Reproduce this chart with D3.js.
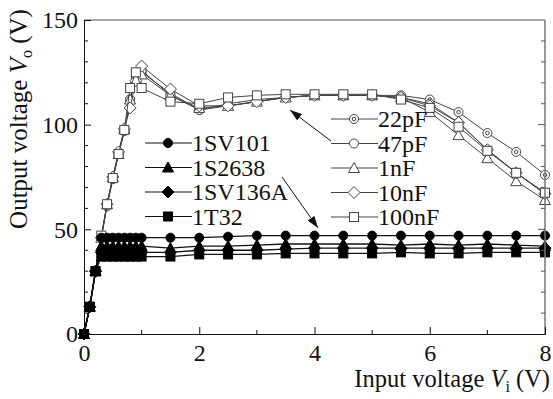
<!DOCTYPE html>
<html>
<head>
<meta charset="utf-8">
<script src="https://cdn.jsdelivr.net/npm/d3@7"></script>
<style>
  body { margin: 0; background: #fff; }
  text { font-family: "Liberation Serif", "Times New Roman", serif; fill: #111; }
</style>
</head>
<body>
<div id="chart"></div>
<script>
// Data
const inputV = [0, 0.1, 0.2, 0.3, 0.4, 0.5, 0.6, 0.7, 0.8, 0.9, 1.0, 1.5, 2, 2.5, 3, 3.5, 4, 4.5, 5, 5.5, 6, 6.5, 7, 7.5, 8];

const diodeNames = ["1SV101", "1S2638", "1SV136A", "1T32"];
const v1SV101  = [0, 13, 30, 46, 46, 46, 46, 46, 46, 46, 46, 46, 46, 46.5, 47, 47, 47, 47, 47, 47, 47, 47, 47, 47, 47];
const v1S2638  = [0, 13, 30, 42, 42, 42, 42, 42, 42, 42, 42, 41, 42, 42, 42.5, 43, 43, 43, 43, 42.5, 43, 42.5, 43, 42.5, 42];
const v1SV136A = [0, 13, 30, 39, 39, 39, 39, 39, 39, 39, 39, 39, 40, 40, 40, 40.5, 41, 41, 41, 41, 41, 41, 41, 41, 41];
const v1T32    = [0, 13, 30, 37, 37, 37, 37, 37, 37, 37, 37, 37, 38, 38, 38, 38.5, 38.5, 38.5, 38.5, 39, 38.5, 38.5, 39, 39, 39];

const capNames = ["22pF", "47pF", "1nF", "10nF", "100nF"];
const v22pF  = [0, 13, 30, 46, 62, 74, 86, 97, 112, 122, 125, 115, 107, 110, 112, 113, 114, 114, 114, 114, 112, 106, 96, 87, 76];
const v47pF  = [0, 13, 30, 46, 61, 74, 86, 97, 112, 123, 126, 114, 107, 109, 111, 113, 114, 114, 114, 113, 110, 101, 88, 77, 67];
const v1nF   = [0, 13, 30, 46, 62, 75, 86, 98, 112, 122, 124, 114, 108, 109, 111, 113, 114, 114, 114, 113, 106, 95, 84, 73, 64];
const v10nF  = [0, 13, 30, 46, 62, 75, 87, 98, 108, 121, 128, 117, 109, 109, 111, 113, 114, 114, 114, 113, 109, 101, 88, 77, 67];
const v100nF = [0, 13, 30, 47, 62, 74.5, 86, 97.5, 117.5, 125, 117.5, 111, 110, 113, 114, 114.5, 114.5, 114.5, 114.5, 112, 108, 99, 87.5, 77, 67.5];

const xTicks = [0, 2, 4, 6, 8];
const yTicks = [0, 50, 100, 150];

// Layout
const W = 553, H = 399;
const margin = {top: 20, right: 8, bottom: 65, left: 84};
const width = W - margin.left - margin.right;
const height = H - margin.top - margin.bottom;

const svg = d3.select("#chart").append("svg")
  .attr("width", W).attr("height", H);
const g = svg.append("g").attr("transform", `translate(${margin.left},${margin.top})`);

const x = d3.scaleLinear().domain([0, 8]).range([0, width]);
const y = d3.scaleLinear().domain([0, 150]).range([height, 0]);

// marker shapes
function shape(sel, kind, fill, stroke) {
  let el;
  if (kind === "circle" || kind === "dcircle") {
    el = sel.append("circle").attr("r", 4.5);
  } else if (kind === "square") {
    el = sel.append("rect").attr("x", -4.5).attr("y", -4.5).attr("width", 9).attr("height", 9);
  } else if (kind === "triangle") {
    el = sel.append("path").attr("d", "M0,-5.5L5.5,4.5L-5.5,4.5Z");
  } else if (kind === "diamond") {
    el = sel.append("path").attr("d", "M0,-6L6,0L0,6L-6,0Z");
  }
  el.attr("fill", fill).attr("stroke", stroke).attr("stroke-width", 1);
  if (kind === "dcircle") {
    sel.append("circle").attr("r", 1.8).attr("fill", "none").attr("stroke", stroke).attr("stroke-width", 1);
  }
}

const capSeries = [
  {name: capNames[0], vals: v22pF, kind: "dcircle"},
  {name: capNames[1], vals: v47pF, kind: "circle"},
  {name: capNames[2], vals: v1nF, kind: "triangle"},
  {name: capNames[3], vals: v10nF, kind: "diamond"},
  {name: capNames[4], vals: v100nF, kind: "square"}
];
const diodeSeries = [
  {name: diodeNames[0], vals: v1SV101, kind: "circle"},
  {name: diodeNames[1], vals: v1S2638, kind: "triangle"},
  {name: diodeNames[2], vals: v1SV136A, kind: "diamond"},
  {name: diodeNames[3], vals: v1T32, kind: "square"}
];

const line = d3.line().x(d => x(d[0])).y(d => y(d[1]));

// capacitor curves (open markers)
capSeries.forEach(s => {
  const pts = inputV.map((v, i) => [v, s.vals[i]]);
  g.append("path").datum(pts)
    .attr("fill", "none").attr("stroke", "#444").attr("stroke-width", 1)
    .attr("d", line);
  pts.forEach(p => {
    const m = g.append("g").attr("transform", `translate(${x(p[0])},${y(p[1])})`);
    shape(m, s.kind, "#fff", "#444");
  });
});

// diode curves (filled markers)
diodeSeries.forEach(s => {
  const pts = inputV.map((v, i) => [v, s.vals[i]]);
  g.append("path").datum(pts)
    .attr("fill", "none").attr("stroke", "#111").attr("stroke-width", 1.3)
    .attr("d", line);
  pts.forEach(p => {
    const m = g.append("g").attr("transform", `translate(${x(p[0])},${y(p[1])})`);
    shape(m, s.kind, "#000", "#000");
  });
});

// frame
g.append("line").attr("x1", 0).attr("x2", width).attr("y1", 0).attr("y2", 0).attr("stroke", "#555");
g.append("line").attr("x1", width).attr("x2", width).attr("y1", 0).attr("y2", height).attr("stroke", "#777").attr("stroke-width", 1.5);

// axes
const xAxis = g.append("g").attr("transform", `translate(0,${height})`)
  .call(d3.axisBottom(x).tickValues(xTicks).tickSize(-7).tickPadding(10).tickFormat(d3.format("d")));
const yAxis = g.append("g")
  .call(d3.axisLeft(y).tickValues(yTicks).tickSize(-7).tickPadding(6).tickFormat(d3.format("d")));
[xAxis, yAxis].forEach(a => {
  a.select(".domain").attr("stroke", "#111");
  a.selectAll(".tick line").attr("stroke", "#111");
  a.selectAll("text").style("font-family", "Liberation Serif").style("font-size", "24px").attr("fill", "#111");
});
// minor ticks
g.append("g").selectAll("line").data(d3.range(1, 8, 2)).join("line")
  .attr("x1", d => x(d)).attr("x2", d => x(d)).attr("y1", height).attr("y2", height - 4)
  .attr("stroke", "#111");
g.append("g").selectAll("line").data(d3.range(10, 150, 10).filter(d => d % 50)).join("line")
  .attr("x1", 0).attr("x2", 4).attr("y1", d => y(d)).attr("y2", d => y(d))
  .attr("stroke", "#111");
g.append("g").selectAll("line").data(d3.range(10, 150, 10)).join("line")
  .attr("x1", width).attr("x2", d => width - (d % 50 ? 4 : 7))
  .attr("y1", d => y(d)).attr("y2", d => y(d))
  .attr("stroke", "#555");

// axis titles
const xt = svg.append("text").attr("text-anchor", "end").attr("x", 550).attr("y", 387).style("font-size", "24.5px");
xt.append("tspan").text("Input voltage ");
xt.append("tspan").style("font-style", "italic").text("V");
xt.append("tspan").attr("dy", 5).style("font-size", "16px").text("i");
xt.append("tspan").attr("dy", -5).text(" (V)");

const yt = svg.append("text").attr("text-anchor", "middle")
  .attr("transform", "translate(27,119) rotate(-90)").style("font-size", "25px");
yt.append("tspan").text("Output voltage ");
yt.append("tspan").style("font-style", "italic").text("V");
yt.append("tspan").attr("dy", 5).style("font-size", "16px").text("o");
yt.append("tspan").attr("dy", -5).text(" (V)");

// legends
function legend(items, x0, y0, stroke, fill, lineColor) {
  items.forEach((s, i) => {
    const row = svg.append("g").attr("transform", `translate(${x0},${y0 + i * 24.5})`);
    row.append("line").attr("x1", 0).attr("x2", 47).attr("stroke", lineColor).attr("stroke-width", 1.2);
    shape(row.append("g").attr("transform", "translate(23,0)"), s.kind, fill, stroke);
    row.append("text").attr("x", 47).attr("y", 8).style("font-size", "24px").text(s.name);
  });
}
legend(diodeSeries, 145, 143, "#000", "#000", "#111");
legend(capSeries, 331, 119, "#444", "#fff", "#444");

// arrows
const defs = svg.append("defs");
defs.append("marker").attr("id", "ah").attr("viewBox", "0 0 12 8")
  .attr("refX", 12).attr("refY", 4).attr("markerWidth", 12).attr("markerHeight", 8)
  .attr("markerUnits", "userSpaceOnUse").attr("orient", "auto")
  .append("path").attr("d", "M0,0L12,4L0,8Z").attr("fill", "#111");
svg.append("line").attr("x1", 331).attr("y1", 141).attr("x2", 290).attr("y2", 110)
  .attr("stroke", "#111").attr("marker-end", "url(#ah)");
svg.append("line").attr("x1", 282).attr("y1", 177).attr("x2", 318).attr("y2", 228)
  .attr("stroke", "#111").attr("marker-end", "url(#ah)");
</script>
</body>
</html>
